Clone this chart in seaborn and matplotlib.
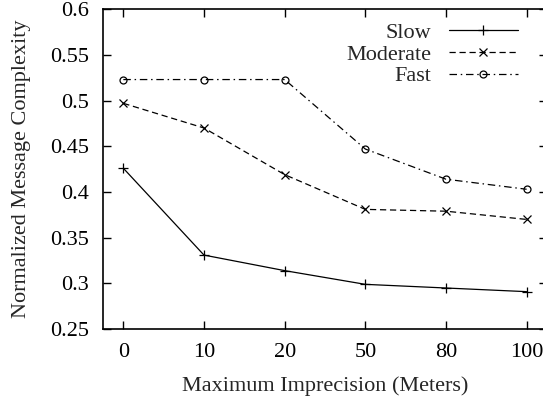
import pandas as pd
import matplotlib
matplotlib.use("Agg")
import matplotlib.pyplot as plt
import seaborn as sns

# values
imprecision = ["0", "10", "20", "50", "80", "100"]
slow = [0.426, 0.331, 0.314, 0.299, 0.295, 0.291]
moderate = [0.497, 0.470, 0.419, 0.381, 0.379, 0.370]
fast = [0.523, 0.523, 0.523, 0.447, 0.414, 0.403]
y_ticks = [0.25, 0.3, 0.35, 0.4, 0.45, 0.5, 0.55, 0.6]

sns.set_style("ticks")
plt.rcParams['font.family'] = ['Liberation Serif', 'DejaVu Serif']
plt.rcParams['font.size'] = 16

fig = plt.figure(figsize=(5.43, 3.98), dpi=100)
ax = fig.add_axes([0.19, 0.173, 0.817, 0.804])

pos = list(range(len(imprecision)))
series = [
    ("Slow", slow, "+", "-", 7),
    ("Moderate", moderate, "x", (0, (5, 3)), 6),
    ("Fast", fast, "o", (0, (6, 3, 1.2, 3)), 5),
]
for name, vals, mk, ls, ms in series:
    sns.lineplot(x=pos, y=vals, ax=ax, color="black", linewidth=0.9,
                 linestyle=ls, marker=mk, markersize=ms,
                 markerfacecolor="none", markeredgecolor="black",
                 markeredgewidth=0.9, label=name)

ax.set_xlim(-0.25, 5.25)
ax.set_ylim(0.25, 0.6)
ax.set_xticks(pos)
ax.set_xticklabels(imprecision)
ax.set_yticks(y_ticks)
ax.set_yticklabels([f"{v:g}" for v in y_ticks])
ax.tick_params(direction="in", length=6, width=1, top=True, right=True,
               labelsize=16, pad=10, colors="black")
for s in ax.spines.values():
    s.set_linewidth(1.2)
    s.set_color("black")

ax.set_xlabel("Maximum Imprecision (Meters)", fontsize=16, labelpad=10)
ax.set_ylabel("Normalized Message Complexity", fontsize=16, labelpad=14)

ax.legend(loc="upper right", bbox_to_anchor=(0.965, 1.0), frameon=False,
          markerfirst=False, handlelength=3.1, labelspacing=0.05,
          handletextpad=0.8, fontsize=16, borderaxespad=0.2)

fig.savefig("out.png", dpi=100)
